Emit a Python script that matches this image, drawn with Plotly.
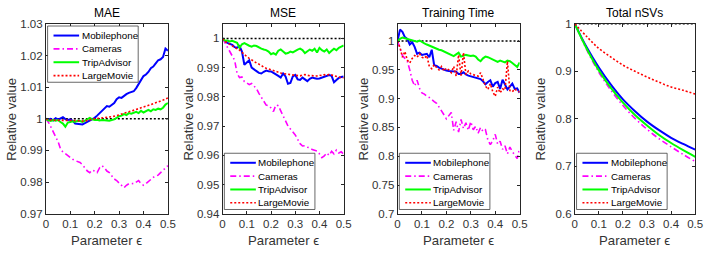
import plotly.graph_objects as go

W, H = 716, 256

# ---------------- data ----------------
eps = [round(0.01 * i, 2) for i in range(51)]
eps_nsv = [0, 0.05, 0.1, 0.15, 0.2, 0.25, 0.3, 0.35, 0.4, 0.45, 0.5]
ref_x = [0, 0.5]
ref_y = [1, 1]

series_names = ["Mobilephone", "Cameras", "TripAdvisor", "LargeMovie"]
panel_titles = ["MAE", "MSE", "Training Time", "Total nSVs"]
x_tick_vals = [0, 0.1, 0.2, 0.3, 0.4, 0.5]
x_tick_text = ["0", "0.1", "0.2", "0.3", "0.4", "0.5"]

mae_y_ticks = [0.97, 0.98, 0.99, 1.0, 1.01, 1.02, 1.03]
mae_y_text = ["0.97", "0.98", "0.99", "1", "1.01", "1.02", "1.03"]
mse_y_ticks = [0.94, 0.95, 0.96, 0.97, 0.98, 0.99, 1.0]
mse_y_text = ["0.94", "0.95", "0.96", "0.97", "0.98", "0.99", "1"]
tt_y_ticks = [0.7, 0.75, 0.8, 0.85, 0.9, 0.95, 1.0]
tt_y_text = ["0.7", "0.75", "0.8", "0.85", "0.9", "0.95", "1"]
nsv_y_ticks = [0.6, 0.7, 0.8, 0.9, 1.0]
nsv_y_text = ["0.6", "0.7", "0.8", "0.9", "1"]

mae_mobile = [1.0000, 0.9998, 1.0000, 0.9995, 1.0002, 0.9998, 1.0001, 1.0005, 0.9999, 0.9996,
              0.9998, 0.9994, 0.9985, 0.9984, 0.9985, 0.9982, 0.9986, 0.9990, 0.9995, 0.9998,
              1.0003, 1.0010, 1.0018, 1.0025, 1.0035, 1.0040, 1.0038, 1.0045, 1.0050, 1.0062,
              1.0068, 1.0066, 1.0073, 1.0078, 1.0082, 1.0085, 1.0087, 1.0097, 1.0110, 1.0125,
              1.0135, 1.0140, 1.0148, 1.0160, 1.0165, 1.0175, 1.0185, 1.0188, 1.0195, 1.0222,
              1.0215]
mae_cameras = [1.0000, 0.9990, 0.9975, 0.9960, 0.9945, 0.9928, 0.9905, 0.9895, 0.9890, 0.9883,
               0.9878, 0.9872, 0.9868, 0.9866, 0.9862, 0.9855, 0.9845, 0.9835, 0.9830, 0.9838,
               0.9835, 0.9830, 0.9845, 0.9852, 0.9845, 0.9835, 0.9830, 0.9818, 0.9810, 0.9805,
               0.9798, 0.9790, 0.9782, 0.9790, 0.9795, 0.9796, 0.9795, 0.9800, 0.9805, 0.9795,
               0.9790, 0.9795, 0.9802, 0.9810, 0.9815, 0.9820, 0.9822, 0.9830, 0.9838, 0.9845,
               0.9852]
mae_trip = [1.0000, 0.9995, 0.9993, 0.9996, 0.9994, 0.9996, 0.9990, 0.9985, 0.9975, 0.9988,
            0.9990, 0.9992, 0.9990, 0.9994, 0.9993, 0.9990, 0.9994, 0.9998, 1.0003, 0.9998,
            0.9996, 0.9997, 0.9995, 0.9996, 0.9995, 0.9996, 0.9994, 0.9996, 0.9998, 1.0003,
            1.0008, 1.0010, 1.0015, 1.0012, 1.0018, 1.0016, 1.0020, 1.0022, 1.0018, 1.0025,
            1.0020, 1.0023, 1.0028, 1.0024, 1.0030, 1.0028, 1.0032, 1.0030, 1.0035, 1.0045,
            1.0050]
mae_movie = [1.0000, 0.9997, 0.9996, 0.9996, 0.9995, 0.9996, 0.9995, 0.9995, 0.9994, 0.9995,
             0.9995, 0.9994, 0.9995, 0.9994, 0.9994, 0.9994, 0.9992, 0.9995, 0.9998, 0.9999,
             1.0000, 1.0001, 1.0001, 1.0002, 1.0002, 1.0003, 1.0004, 1.0006, 1.0008, 1.0010,
             1.0013, 1.0015, 1.0018, 1.0020, 1.0022, 1.0024, 1.0027, 1.0030, 1.0032, 1.0035,
             1.0037, 1.0040, 1.0042, 1.0045, 1.0048, 1.0050, 1.0053, 1.0056, 1.0059, 1.0062,
             1.0066]

mse_mobile = [1.0000, 0.9990, 0.9985, 0.9980, 0.9978, 0.9970, 0.9968, 0.9974, 0.9955, 0.9910,
              0.9918, 0.9925, 0.9900, 0.9895, 0.9888, 0.9882, 0.9880, 0.9886, 0.9890, 0.9888,
              0.9887, 0.9882, 0.9878, 0.9872, 0.9866, 0.9880, 0.9870, 0.9845, 0.9848, 0.9870,
              0.9875, 0.9860, 0.9858, 0.9866, 0.9860, 0.9854, 0.9862, 0.9866, 0.9864, 0.9862,
              0.9863, 0.9866, 0.9867, 0.9870, 0.9875, 0.9872, 0.9850, 0.9858, 0.9865, 0.9868,
              0.9870]
mse_cameras = [1.0000, 0.9985, 0.9975, 0.9958, 0.9945, 0.9925, 0.9880, 0.9866, 0.9868, 0.9852,
               0.9848, 0.9842, 0.9846, 0.9838, 0.9828, 0.9812, 0.9798, 0.9785, 0.9772, 0.9770,
               0.9762, 0.9750, 0.9772, 0.9770, 0.9755, 0.9735, 0.9718, 0.9700, 0.9690, 0.9680,
               0.9670, 0.9655, 0.9640, 0.9632, 0.9633, 0.9628, 0.9626, 0.9620, 0.9618, 0.9615,
               0.9605, 0.9592, 0.9598, 0.9608, 0.9600, 0.9614, 0.9605, 0.9618, 0.9608, 0.9612,
               0.9604]
mse_trip = [1.0000, 0.9992, 0.9993, 0.9990, 0.9992, 0.9988, 0.9985, 0.9968, 0.9980, 0.9984,
            0.9978, 0.9975, 0.9972, 0.9976, 0.9974, 0.9968, 0.9965, 0.9962, 0.9960, 0.9955,
            0.9946, 0.9950, 0.9945, 0.9958, 0.9962, 0.9955, 0.9948, 0.9950, 0.9955, 0.9952,
            0.9958, 0.9962, 0.9965, 0.9960, 0.9950, 0.9956, 0.9962, 0.9958, 0.9965, 0.9952,
            0.9968, 0.9960, 0.9955, 0.9962, 0.9950, 0.9958, 0.9965, 0.9960, 0.9968, 0.9972,
            0.9976]
mse_movie = [1.0000, 0.9990, 0.9985, 0.9979, 0.9975, 0.9968, 0.9964, 0.9960, 0.9952, 0.9945,
             0.9938, 0.9932, 0.9926, 0.9920, 0.9916, 0.9912, 0.9906, 0.9902, 0.9898, 0.9895,
             0.9893, 0.9890, 0.9887, 0.9885, 0.9882, 0.9880, 0.9878, 0.9877, 0.9876, 0.9875,
             0.9874, 0.9874, 0.9872, 0.9875, 0.9876, 0.9874, 0.9872, 0.9873, 0.9871, 0.9872,
             0.9874, 0.9873, 0.9876, 0.9874, 0.9877, 0.9875, 0.9872, 0.9870, 0.9868, 0.9866,
             0.9865]

tt_mobile = [1.000, 1.020, 1.016, 1.007, 1.004, 0.994, 0.998, 0.990, 0.978, 0.980,
             0.976, 0.977, 0.978, 0.972, 0.985, 0.958, 0.957, 0.954, 0.952, 0.950,
             0.949, 0.948, 0.948, 0.947, 0.947, 0.943, 0.943, 0.946, 0.942, 0.940,
             0.939, 0.938, 0.937, 0.936, 0.934, 0.930, 0.925, 0.929, 0.932, 0.921,
             0.927, 0.929, 0.917, 0.933, 0.925, 0.916, 0.921, 0.926, 0.917, 0.918,
             0.910]
tt_cameras = [1.000, 0.986, 0.975, 0.970, 0.965, 0.950, 0.932, 0.922, 0.932, 0.918,
              0.910, 0.908, 0.904, 0.902, 0.898, 0.895, 0.892, 0.886, 0.880, 0.872,
              0.865, 0.870, 0.876, 0.845, 0.860, 0.842, 0.864, 0.848, 0.858, 0.845,
              0.860, 0.846, 0.852, 0.840, 0.850, 0.843, 0.846, 0.828, 0.820, 0.827,
              0.838, 0.821, 0.826, 0.812, 0.818, 0.804, 0.816, 0.808, 0.802, 0.796,
              0.814]
tt_trip = [1.000, 1.004, 1.006, 1.005, 1.004, 1.003, 1.002, 1.000, 0.999, 1.001,
           0.998, 0.996, 0.994, 0.992, 0.990, 0.989, 0.987, 0.985, 0.984, 0.982,
           0.980, 0.979, 0.976, 0.974, 0.977, 0.980, 0.973, 0.974, 0.976, 0.975,
           0.974, 0.975, 0.973, 0.968, 0.965, 0.970, 0.973, 0.972, 0.970, 0.969,
           0.967, 0.964, 0.966, 0.965, 0.963, 0.966, 0.965, 0.962, 0.959, 0.955,
           0.963]
tt_movie = [1.000, 0.989, 0.972, 0.982, 0.967, 0.962, 0.970, 0.975, 0.972, 0.978,
            0.972, 0.970, 0.975, 0.956, 0.952, 0.959, 0.954, 0.950, 0.956, 0.948,
            0.953, 0.950, 0.945, 0.956, 0.939, 0.976, 0.940, 0.980, 0.942, 0.948,
            0.943, 0.942, 0.940, 0.939, 0.945, 0.932, 0.922, 0.916, 0.926, 0.912,
            0.904, 0.920, 0.910, 0.917, 0.915, 0.965, 0.914, 0.912, 0.917, 0.913,
            0.912]

nsv_mobile = [1.000, 0.950, 0.908, 0.872, 0.841, 0.816, 0.794, 0.776, 0.760, 0.747, 0.735]
nsv_cameras = [1.000, 0.945, 0.898, 0.860, 0.828, 0.801, 0.778, 0.758, 0.741, 0.725, 0.710]
nsv_trip = [1.000, 0.947, 0.902, 0.865, 0.834, 0.808, 0.786, 0.766, 0.749, 0.734, 0.720]
nsv_movie = [1.000, 0.973, 0.948, 0.930, 0.913, 0.900, 0.888, 0.877, 0.867, 0.860, 0.852]

# ---------------- styles ----------------
FONT = "Liberation Sans, Arial, sans-serif"
AX = "#262626"
TXT = "#333333"
styles = [
    dict(color="#0000FF", width=2, dash="solid"),
    dict(color="#FF00FF", width=1.6, dash="6px,3px,1.5px,3px"),
    dict(color="#00FF00", width=2, dash="solid"),
    dict(color="#FF0000", width=1.6, dash="2px,2px"),
]
ref_style = dict(color="#000000", width=1.5, dash="2px,2px")

panels = [
    dict(x=[eps] * 4, ys=[mae_mobile, mae_cameras, mae_trip, mae_movie], rng=[0.97, 1.03],
         tv=mae_y_ticks, tt=mae_y_text, shape="linear", leg="nw"),
    dict(x=[eps] * 4, ys=[mse_mobile, mse_cameras, mse_trip, mse_movie], rng=[0.94, 1.005],
         tv=mse_y_ticks, tt=mse_y_text, shape="linear", leg="sw"),
    dict(x=[eps] * 4, ys=[tt_mobile, tt_cameras, tt_trip, tt_movie], rng=[0.7, 1.03],
         tv=tt_y_ticks, tt=tt_y_text, shape="linear", leg="sw"),
    dict(x=[eps_nsv] * 4, ys=[nsv_mobile, nsv_cameras, nsv_trip, nsv_movie], rng=[0.6, 1.0],
         tv=nsv_y_ticks, tt=nsv_y_text, shape="spline", leg="sw"),
]

# axis box positions in pixels
x_px = [(43.5, 167.5), (223.0, 346.0), (400.7, 524.7), (580.7, 703.0)]
y_top, y_bot = 18.7, 218.0


def px(x):
    return x / W


def py(y):
    return 1 - y / H


fig = go.Figure()
layout = dict(width=W, height=H, autosize=False, margin=dict(l=0, r=0, t=0, b=0),
              paper_bgcolor="white", plot_bgcolor="white", showlegend=False,
              font=dict(family=FONT, size=11.5, color=TXT))
shapes = []
annotations = []

for i, p in enumerate(panels):
    n = "" if i == 0 else str(i + 1)
    xa, ya = "x" + n, "y" + n
    fig.add_trace(go.Scatter(x=ref_x, y=ref_y, mode="lines", line=ref_style,
                             xaxis=xa, yaxis=ya, hoverinfo="skip", cliponaxis=False))
    for k in range(4):
        fig.add_trace(go.Scatter(x=p["x"][k], y=p["ys"][k], mode="lines", name=series_names[k],
                                 line=dict(**styles[k], shape=p["shape"]),
                                 xaxis=xa, yaxis=ya))
    common = dict(showline=True, linecolor=AX, linewidth=0.8, mirror="ticks", ticks="inside",
                  ticklen=3, tickcolor=AX, tickwidth=0.8, showgrid=False, zeroline=False,
                  tickfont=dict(family=FONT, size=11.5, color=TXT))
    layout["xaxis" + n] = dict(domain=[px(x_px[i][0]), px(x_px[i][1])], range=[0, 0.5],
                               anchor=ya, tickvals=x_tick_vals, ticktext=x_tick_text, **common)
    layout["yaxis" + n] = dict(domain=[py(y_bot), py(y_top)], range=p["rng"], anchor=xa,
                               tickvals=p["tv"], ticktext=p["tt"], **common)

    xl, xr = x_px[i]
    xc = (xl + xr) / 2
    # panel title
    annotations.append(dict(text=panel_titles[i], x=px(xc), y=py(7.5), xref="paper", yref="paper",
                            xanchor="center", yanchor="middle", showarrow=False,
                            font=dict(family=FONT, size=12, color="#000000")))
    # x label
    annotations.append(dict(text="Parameter \u03f5", x=px(xc), y=py(246.5), xref="paper", yref="paper",
                            xanchor="center", yanchor="middle", showarrow=False,
                            font=dict(family=FONT, size=13.2, color=TXT)))
    # y label
    annotations.append(dict(text="Relative value", x=px(xl - 34.5), y=py((y_top + y_bot) / 2),
                            xref="paper", yref="paper", xanchor="center", yanchor="middle",
                            textangle=-90, showarrow=False,
                            font=dict(family=FONT, size=13.2, color=TXT)))

    # manual legend
    lw, lh = 92, 59
    lx = xl + 1.8
    ly = y_top + 2.3 if p["leg"] == "nw" else y_bot - 4.5 - lh
    shapes.append(dict(type="rect", xref="paper", yref="paper", x0=px(lx), x1=px(lx + lw),
                       y0=py(ly + lh), y1=py(ly), fillcolor="white",
                       line=dict(color=AX, width=0.7), layer="above"))
    for k in range(4):
        yy = ly + 10 + 14 * k
        st = styles[k]
        shapes.append(dict(type="line", xref="paper", yref="paper", x0=px(lx + 6), x1=px(lx + 32),
                           y0=py(yy), y1=py(yy), layer="above",
                           line=dict(color=st["color"], width=st["width"], dash=st["dash"])))
        annotations.append(dict(text=series_names[k], x=px(lx + 32.5), y=py(yy), xref="paper",
                                yref="paper", xanchor="left", yanchor="middle", showarrow=False,
                                font=dict(family=FONT, size=9.8, color="#000000")))

layout["shapes"] = shapes
layout["annotations"] = annotations
fig.update_layout(**layout)
fig.write_html("out.html")
